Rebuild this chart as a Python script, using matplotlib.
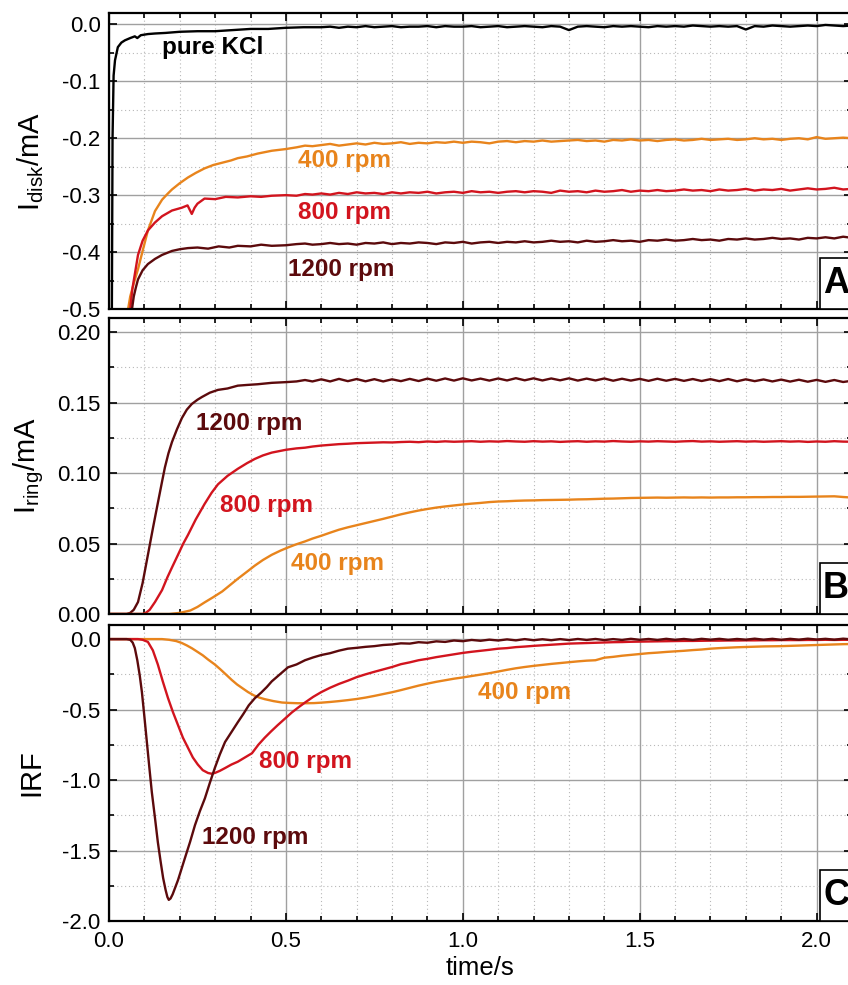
import numpy as np
import matplotlib
matplotlib.use("Agg")
import matplotlib.pyplot as plt
from matplotlib.patches import Rectangle
from matplotlib.ticker import MultipleLocator

plt.rcParams['font.family'] = ['Liberation Sans', 'DejaVu Sans']
plt.rcParams['axes.unicode_minus'] = False

# colours of the three rotation rates
c400 = '#E8841C'
c800 = '#D2141E'
c1200 = '#5C0A0C'

# common time grid for the flat tail of each trace (s)
t_tail = [0.600, 0.625, 0.650, 0.675, 0.700, 0.725, 0.750, 0.775, 0.800, 0.825,
          0.850, 0.875, 0.900, 0.925, 0.950, 0.975, 1.000, 1.025, 1.050, 1.075,
          1.100, 1.125, 1.150, 1.175, 1.200, 1.225, 1.250, 1.275, 1.300, 1.325,
          1.350, 1.375, 1.400, 1.425, 1.450, 1.475, 1.500, 1.525, 1.550, 1.575,
          1.600, 1.625, 1.650, 1.675, 1.700, 1.725, 1.750, 1.775, 1.800, 1.825,
          1.850, 1.875, 1.900, 1.925, 1.950, 1.975, 2.000, 2.025, 2.050, 2.075,
          2.100]

# ---------------- panel A : disk current (mA) ----------------
tA_kcl = [0.008, 0.010, 0.013, 0.017, 0.025, 0.035, 0.045, 0.060, 0.073, 0.080, 0.090,
          0.110, 0.130, 0.160, 0.200, 0.250, 0.300, 0.350, 0.400, 0.450, 0.500, 0.550]
iA_kcl = [-0.52, -0.20, -0.09, -0.063, -0.040, -0.032, -0.028, -0.024, -0.021, -0.024, -0.019,
          -0.017, -0.016, -0.015, -0.013, -0.012, -0.012, -0.010, -0.008, -0.008, -0.006, -0.005]
iA_kcl_tail = [-0.005, -0.004, -0.006, -0.004, -0.005, -0.003, -0.005, -0.004, -0.003, -0.005,
               -0.004, -0.004, -0.003, -0.005, -0.003, -0.004, -0.004, -0.003, -0.005, -0.004,
               -0.003, -0.005, -0.004, -0.003, -0.004, -0.005, -0.003, -0.004, -0.010, -0.004,
               -0.003, -0.004, -0.005, -0.003, -0.004, -0.003, -0.004, -0.005, -0.003, -0.004,
               -0.003, -0.004, -0.002, -0.003, -0.004, -0.003, -0.004, -0.003, -0.009, -0.003,
               -0.004, -0.002, -0.003, -0.004, -0.003, -0.002, -0.003, -0.001, -0.002, -0.003,
               -0.002]

tA_400 = [0.054, 0.060, 0.070, 0.082, 0.095, 0.110, 0.130, 0.150, 0.165, 0.178, 0.200, 0.223, 0.245,
          0.270, 0.295, 0.320, 0.345, 0.364, 0.390, 0.420, 0.460, 0.500, 0.530, 0.554, 0.575]
iA_400 = [-0.50, -0.478, -0.455, -0.430, -0.398, -0.362, -0.328, -0.308, -0.298, -0.290, -0.279, -0.269, -0.261,
          -0.253, -0.247, -0.243, -0.239, -0.235, -0.232, -0.227, -0.222, -0.219, -0.216, -0.213, -0.214]
iA_400_tail = [-0.212, -0.210, -0.213, -0.211, -0.209, -0.211, -0.208, -0.210, -0.209, -0.207,
               -0.210, -0.208, -0.209, -0.207, -0.208, -0.206, -0.208, -0.206, -0.207, -0.209,
               -0.206, -0.205, -0.207, -0.205, -0.206, -0.204, -0.206, -0.205, -0.204, -0.203,
               -0.205, -0.204, -0.206, -0.203, -0.204, -0.202, -0.204, -0.203, -0.205, -0.203,
               -0.202, -0.204, -0.203, -0.201, -0.203, -0.202, -0.201, -0.203, -0.202, -0.200,
               -0.202, -0.201, -0.203, -0.201, -0.200, -0.202, -0.198, -0.201, -0.200, -0.199,
               -0.200]

tA_800 = [0.060, 0.066, 0.074, 0.082, 0.095, 0.110, 0.130, 0.150, 0.178, 0.206, 0.222, 0.234, 0.242,
          0.250, 0.270, 0.300, 0.330, 0.364, 0.400, 0.430, 0.460, 0.500, 0.530, 0.554, 0.575]
iA_800 = [-0.50, -0.465, -0.435, -0.405, -0.380, -0.362, -0.348, -0.337, -0.327, -0.322, -0.318, -0.333, -0.322,
          -0.315, -0.306, -0.307, -0.303, -0.304, -0.302, -0.303, -0.301, -0.300, -0.301, -0.298, -0.299]
iA_800_tail = [-0.297, -0.299, -0.296, -0.298, -0.295, -0.297, -0.296, -0.298, -0.295, -0.297,
               -0.295, -0.296, -0.294, -0.297, -0.295, -0.294, -0.296, -0.293, -0.295, -0.294,
               -0.296, -0.294, -0.293, -0.295, -0.293, -0.294, -0.296, -0.292, -0.294, -0.293,
               -0.295, -0.292, -0.294, -0.293, -0.291, -0.294, -0.292, -0.293, -0.291, -0.293,
               -0.292, -0.290, -0.292, -0.291, -0.293, -0.290, -0.292, -0.291, -0.289, -0.292,
               -0.290, -0.291, -0.289, -0.292, -0.290, -0.288, -0.290, -0.289, -0.287, -0.290,
               -0.289]

tA_1200 = [0.065, 0.070, 0.076, 0.082, 0.095, 0.110, 0.130, 0.150, 0.178, 0.200, 0.223, 0.250,
           0.280, 0.310, 0.340, 0.364, 0.400, 0.430, 0.460, 0.500, 0.530, 0.554, 0.575]
iA_1200 = [-0.50, -0.478, -0.462, -0.448, -0.432, -0.421, -0.412, -0.405, -0.398, -0.395, -0.393, -0.392,
           -0.394, -0.390, -0.392, -0.389, -0.390, -0.387, -0.389, -0.388, -0.386, -0.385, -0.387]
iA_1200_tail = [-0.386, -0.384, -0.386, -0.385, -0.387, -0.384, -0.385, -0.383, -0.386, -0.384,
                -0.385, -0.383, -0.384, -0.386, -0.383, -0.384, -0.382, -0.385, -0.383, -0.382,
                -0.384, -0.382, -0.383, -0.381, -0.383, -0.382, -0.380, -0.382, -0.381, -0.383,
                -0.380, -0.382, -0.381, -0.379, -0.381, -0.380, -0.382, -0.379, -0.380, -0.378,
                -0.380, -0.379, -0.377, -0.379, -0.378, -0.380, -0.377, -0.378, -0.376, -0.378,
                -0.377, -0.375, -0.377, -0.376, -0.378, -0.375, -0.376, -0.374, -0.376, -0.373,
                -0.375]

# ---------------- panel B : ring current (mA) ----------------
tB_1200 = [0.0, 0.050, 0.060, 0.070, 0.082, 0.095, 0.110, 0.125, 0.139, 0.150, 0.158, 0.168, 0.178,
           0.192, 0.206, 0.220, 0.234, 0.250, 0.263, 0.285, 0.308, 0.335, 0.364, 0.390, 0.420,
           0.460, 0.500, 0.530, 0.554, 0.575]
iB_1200 = [0.0, 0.0, 0.0008, 0.003, 0.0085, 0.022, 0.042, 0.062, 0.080, 0.094, 0.104, 0.114, 0.122,
           0.131, 0.139, 0.145, 0.149, 0.152, 0.154, 0.157, 0.159, 0.160, 0.162, 0.1625, 0.163,
           0.164, 0.1645, 0.165, 0.166, 0.165]
iB_1200_tail = [0.1665, 0.1650, 0.1668, 0.1652, 0.1667, 0.1651, 0.1666, 0.1650, 0.1665, 0.1652,
                0.1668, 0.1653, 0.1670, 0.1655, 0.1671, 0.1656, 0.1672, 0.1657, 0.1670, 0.1656,
                0.1671, 0.1657, 0.1673, 0.1658, 0.1672, 0.1657, 0.1671, 0.1658, 0.1672, 0.1656,
                0.1670, 0.1657, 0.1671, 0.1655, 0.1669, 0.1656, 0.1668, 0.1654, 0.1669, 0.1655,
                0.1668, 0.1654, 0.1667, 0.1653, 0.1666, 0.1652, 0.1667, 0.1651, 0.1665, 0.1652,
                0.1664, 0.1650, 0.1663, 0.1649, 0.1662, 0.1648, 0.1661, 0.1647, 0.1660, 0.1646,
                0.1655]

tB_800 = [0.0, 0.095, 0.105, 0.115, 0.130, 0.150, 0.165, 0.178, 0.195, 0.210, 0.223, 0.245, 0.270,
          0.290, 0.308, 0.335, 0.364, 0.390, 0.412, 0.435, 0.460, 0.500, 0.530, 0.554, 0.575]
iB_800 = [0.0, 0.0, 0.001, 0.003, 0.0085, 0.017, 0.026, 0.033, 0.042, 0.050, 0.056, 0.067, 0.078,
          0.086, 0.092, 0.098, 0.103, 0.107, 0.110, 0.1125, 0.1145, 0.1165, 0.1175, 0.118, 0.1188]
iB_800_tail = [0.1195, 0.1200, 0.1205, 0.1208, 0.1212, 0.1214, 0.1216, 0.1218, 0.1217, 0.1220,
               0.1222, 0.1219, 0.1224, 0.1221, 0.1225, 0.1222, 0.1224, 0.1226, 0.1222, 0.1225,
               0.1223, 0.1227, 0.1224, 0.1222, 0.1226, 0.1223, 0.1225, 0.1221, 0.1224, 0.1226,
               0.1222, 0.1225, 0.1223, 0.1227, 0.1224, 0.1222, 0.1225, 0.1223, 0.1226, 0.1224,
               0.1222, 0.1225, 0.1227, 0.1223, 0.1225, 0.1222, 0.1224, 0.1226, 0.1223, 0.1225,
               0.1222, 0.1224, 0.1226, 0.1223, 0.1225, 0.1221, 0.1224, 0.1222, 0.1226, 0.1223,
               0.1222]

tB_400 = [0.0, 0.170, 0.200, 0.230, 0.250, 0.270, 0.295, 0.320, 0.342, 0.364, 0.390, 0.412,
          0.435, 0.460, 0.485, 0.506, 0.530, 0.554, 0.575]
iB_400 = [0.0, 0.0, 0.0008, 0.0025, 0.005, 0.0082, 0.0120, 0.0160, 0.0205, 0.0250, 0.0300, 0.0343,
          0.0383, 0.0420, 0.0450, 0.0472, 0.0495, 0.0515, 0.0535]
iB_400_tail = [0.0555, 0.0577, 0.0598, 0.0615, 0.0630, 0.0645, 0.0660, 0.0675, 0.0691, 0.0707,
               0.0721, 0.0734, 0.0745, 0.0755, 0.0763, 0.0770, 0.0777, 0.0783, 0.0788, 0.0794,
               0.0798, 0.0800, 0.0803, 0.0805, 0.0806, 0.0808, 0.0809, 0.0810, 0.0811, 0.0813,
               0.0814, 0.0816, 0.0818, 0.0819, 0.0821, 0.0823, 0.0824, 0.0825, 0.0826, 0.0825,
               0.0826, 0.0827, 0.0826, 0.0827, 0.0826, 0.0827, 0.0827, 0.0828, 0.0828, 0.0829,
               0.0829, 0.0830, 0.0830, 0.0831, 0.0831, 0.0832, 0.0833, 0.0834, 0.0835, 0.0830,
               0.0826]

# ---------------- panel C : impulse response function ----------------
tC_1200 = [0.0, 0.050, 0.060, 0.067, 0.073, 0.080, 0.087, 0.093, 0.100, 0.107, 0.114, 0.121, 0.130,
           0.138, 0.146, 0.153, 0.160, 0.165, 0.169, 0.174, 0.180, 0.186, 0.195, 0.205, 0.215,
           0.229, 0.243, 0.257, 0.271, 0.285, 0.299, 0.313, 0.328, 0.346, 0.364, 0.380, 0.395,
           0.412, 0.430, 0.446, 0.460, 0.483, 0.506, 0.530, 0.554, 0.577]
irf_1200 = [0.0, 0.0, -0.005, -0.025, -0.064, -0.15, -0.26, -0.376, -0.55, -0.73, -0.91, -1.085, -1.27,
            -1.44, -1.58, -1.695, -1.78, -1.83, -1.85, -1.84, -1.81, -1.77, -1.71, -1.63, -1.55,
            -1.44, -1.32, -1.22, -1.13, -1.02, -0.915, -0.82, -0.73, -0.66, -0.59, -0.53, -0.47,
            -0.42, -0.38, -0.34, -0.30, -0.25, -0.20, -0.18, -0.15, -0.13]
irf_1200_tail = [-0.113, -0.100, -0.082, -0.068, -0.062, -0.055, -0.050, -0.042, -0.038, -0.030,
                 -0.032, -0.022, -0.026, -0.016, -0.020, -0.010, -0.015, -0.006, -0.012, -0.004,
                 -0.010, -0.002, -0.009, 0.000, -0.008, -0.001, -0.008, 0.000, -0.007, 0.001,
                 -0.006, 0.001, -0.007, 0.000, -0.006, 0.002, -0.005, 0.001, -0.006, 0.002,
                 -0.005, 0.001, -0.006, 0.002, -0.004, 0.002, -0.005, 0.001, -0.004, 0.003,
                 -0.004, 0.002, -0.005, 0.002, -0.004, 0.003, -0.003, 0.002, -0.004, 0.003,
                 -0.002]

tC_800 = [0.0, 0.082, 0.095, 0.110, 0.124, 0.138, 0.152, 0.167, 0.181, 0.195, 0.209, 0.223, 0.237,
          0.251, 0.265, 0.280, 0.290, 0.299, 0.313, 0.328, 0.346, 0.364, 0.384, 0.404, 0.422,
          0.440, 0.458, 0.477, 0.497, 0.517, 0.535, 0.554, 0.577]
irf_800 = [0.0, 0.0, -0.005, -0.02, -0.08, -0.18, -0.30, -0.42, -0.52, -0.61, -0.70, -0.77, -0.84,
           -0.89, -0.93, -0.95, -0.955, -0.95, -0.935, -0.915, -0.89, -0.87, -0.84, -0.81, -0.75,
           -0.70, -0.655, -0.61, -0.565, -0.52, -0.485, -0.45, -0.41]
irf_800_tail = [-0.376, -0.345, -0.318, -0.295, -0.270, -0.250, -0.232, -0.215, -0.198, -0.178,
                -0.165, -0.150, -0.140, -0.128, -0.118, -0.108, -0.098, -0.090, -0.083, -0.076,
                -0.068, -0.064, -0.057, -0.053, -0.048, -0.044, -0.040, -0.036, -0.032, -0.030,
                -0.028, -0.026, -0.024, -0.022, -0.021, -0.019, -0.018, -0.017, -0.016, -0.015,
                -0.014, -0.013, -0.013, -0.012, -0.011, -0.011, -0.010, -0.010, -0.009, -0.009,
                -0.008, -0.008, -0.007, -0.007, -0.007, -0.006, -0.006, -0.005, -0.006, -0.005,
                -0.005]

tC_400 = [0.0, 0.150, 0.170, 0.190, 0.206, 0.220, 0.235, 0.251, 0.265, 0.280, 0.299, 0.315, 0.330,
          0.347, 0.362, 0.378, 0.393, 0.410, 0.425, 0.440, 0.465, 0.489, 0.510, 0.534, 0.558, 0.580]
irf_400 = [0.0, 0.0, -0.005, -0.014, -0.028, -0.045, -0.066, -0.092, -0.115, -0.145, -0.18, -0.215, -0.25,
           -0.29, -0.322, -0.35, -0.376, -0.40, -0.415, -0.426, -0.44, -0.45, -0.453, -0.455, -0.455, -0.454]
irf_400_tail = [-0.451, -0.446, -0.440, -0.433, -0.425, -0.415, -0.403, -0.390, -0.377, -0.362,
                -0.346, -0.330, -0.316, -0.303, -0.292, -0.281, -0.272, -0.262, -0.252, -0.242,
                -0.230, -0.218, -0.207, -0.198, -0.190, -0.183, -0.176, -0.170, -0.164, -0.158,
                -0.153, -0.150, -0.132, -0.126, -0.118, -0.112, -0.106, -0.100, -0.096, -0.091,
                -0.087, -0.083, -0.078, -0.074, -0.068, -0.064, -0.061, -0.058, -0.056, -0.054,
                -0.052, -0.051, -0.050, -0.048, -0.046, -0.044, -0.042, -0.040, -0.038, -0.036,
                -0.035]


def trace(t_head, v_head, v_tail):
    return np.array(t_head + t_tail), np.array(v_head + v_tail)


def style(ax, ylim, ymaj, ymin, fmt, show_x):
    ax.set_xlim(0, 2.1)
    ax.set_ylim(*ylim)
    ax.xaxis.set_major_locator(MultipleLocator(0.5))
    ax.xaxis.set_minor_locator(MultipleLocator(0.1))
    ax.yaxis.set_major_locator(MultipleLocator(ymaj))
    ax.yaxis.set_minor_locator(MultipleLocator(ymin))
    ax.yaxis.set_major_formatter(plt.FormatStrFormatter(fmt))
    ax.xaxis.set_major_formatter(plt.FormatStrFormatter('%.1f'))
    ax.grid(which='major', color='#a0a0a0', lw=1.0)
    ax.grid(which='minor', color='#b8b8b8', lw=0.8, ls=(0, (1, 2.5)))
    ax.set_axisbelow(True)
    ax.tick_params(which='both', direction='in', top=True, right=True, labelsize=16,
                   width=1.2, color='black')
    ax.tick_params(which='major', length=6, pad=6)
    ax.tick_params(which='minor', length=3.5)
    ax.tick_params(axis='x', labelbottom=show_x, pad=7)
    for s in ax.spines.values():
        s.set_linewidth(1.6)
    ax.yaxis.set_label_coords(-0.085, 0.5)


def panel_tag(ax, letter):
    ax.add_patch(Rectangle((0.957, 0.0), 0.06, 0.172, transform=ax.transAxes, fc='white',
                           ec='black', lw=1.2, clip_on=False, zorder=5))
    ax.text(0.961, 0.086, letter, transform=ax.transAxes, ha='left', va='center',
            fontsize=26, fontweight='bold', zorder=6)


fig = plt.figure(figsize=(8.48, 9.85), dpi=100)
left = 109 / 848
width = (852 - 109) / 848
h = 296 / 985
axA = fig.add_axes([left, 1 - 309 / 985, width, h])
axB = fig.add_axes([left, 1 - 614 / 985, width, h])
axC = fig.add_axes([left, 1 - 921 / 985, width, h])

lw = 1.7
lab = dict(fontsize=17.5, fontweight='bold', ha='center', va='center')

# panel A
t, v = trace(tA_kcl, iA_kcl, iA_kcl_tail)
axA.plot(t, v, color='black', lw=lw)
t, v = trace(tA_400, iA_400, iA_400_tail)
axA.plot(t, v, color=c400, lw=lw)
t, v = trace(tA_800, iA_800, iA_800_tail)
axA.plot(t, v, color=c800, lw=lw)
t, v = trace(tA_1200, iA_1200, iA_1200_tail)
axA.plot(t, v, color=c1200, lw=lw)
axA.text(0.294, -0.040, 'pure KCl', color='black', **lab)
axA.text(0.667, -0.240, '400 rpm', color=c400, **lab)
axA.text(0.667, -0.331, '800 rpm', color=c800, **lab)
axA.text(0.655, -0.430, '1200 rpm', color=c1200, **lab)
style(axA, (-0.5, 0.02), 0.1, 0.05, '%.1f', False)
axA.set_ylabel('I$_\\mathregular{disk}$/mA', fontsize=21)
panel_tag(axA, 'A')

# panel B
t, v = trace(tB_1200, iB_1200, iB_1200_tail)
axB.plot(t, v, color=c1200, lw=lw)
t, v = trace(tB_800, iB_800, iB_800_tail)
axB.plot(t, v, color=c800, lw=lw)
t, v = trace(tB_400, iB_400, iB_400_tail)
axB.plot(t, v, color=c400, lw=lw)
axB.text(0.395, 0.135, '1200 rpm', color=c1200, **lab)
axB.text(0.446, 0.077, '800 rpm', color=c800, **lab)
axB.text(0.647, 0.036, '400 rpm', color=c400, **lab)
style(axB, (0.0, 0.21), 0.05, 0.025, '%.2f', False)
axB.set_ylabel('I$_\\mathregular{ring}$/mA', fontsize=21)
panel_tag(axB, 'B')

# panel C
t, v = trace(tC_400, irf_400, irf_400_tail)
axC.plot(t, v, color=c400, lw=lw)
t, v = trace(tC_800, irf_800, irf_800_tail)
axC.plot(t, v, color=c800, lw=lw)
t, v = trace(tC_1200, irf_1200, irf_1200_tail)
axC.plot(t, v, color=c1200, lw=lw)
axC.text(1.175, -0.376, '400 rpm', color=c400, **lab)
axC.text(0.556, -0.870, '800 rpm', color=c800, **lab)
axC.text(0.412, -1.410, '1200 rpm', color=c1200, **lab)
style(axC, (-2.0, 0.1), 0.5, 0.25, '%.1f', True)
axC.set_ylabel('IRF', fontsize=21)
axC.set_xlabel('time/s', fontsize=18.5, labelpad=3)
panel_tag(axC, 'C')

fig.savefig('out.png', dpi=100)
